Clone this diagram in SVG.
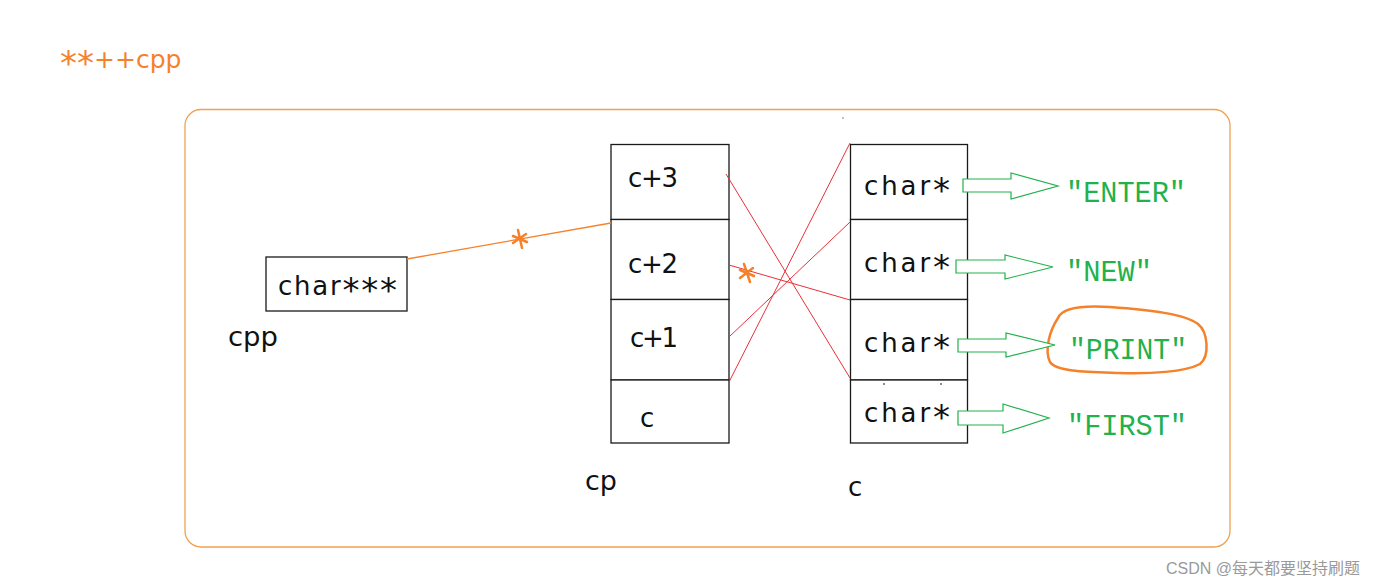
<svg xmlns="http://www.w3.org/2000/svg" width="1400" height="586" viewBox="0 0 1400 586">
<style>
.box{fill:#fff;stroke:#1a1a1a;stroke-width:1.3}
.t{font-family:"DejaVu Sans",Verdana,sans-serif;font-size:26px;fill:#111}
.lbl{font-family:"DejaVu Sans",Verdana,sans-serif;font-size:26px;fill:#111}
.big{font-size:34px}
.str{font-family:"Liberation Mono","DejaVu Sans Mono",monospace;font-size:29px;fill:#22b14c}
.red{stroke:#e8303a;stroke-width:1;fill:none}
.garrow{fill:#fff;stroke:#22b14c;stroke-width:1.2}
.ast{stroke:#f5822a;stroke-width:2.5;fill:none;stroke-linecap:round}
</style>
<rect width="1400" height="586" fill="#fff"/>
<text x="60" y="68" font-family="DejaVu Sans,Verdana,sans-serif" font-size="25" fill="#f5822a"><tspan class="big" dy="7">**</tspan><tspan dy="-7">++cpp</tspan></text>
<rect x="185" y="109.5" width="1045" height="437.5" rx="16" fill="none" stroke="#f0a050" stroke-width="1.3"/>

<g id="cpp">
<rect class="box" x="266" y="257" width="141" height="54"/>
<text class="t" x="278" y="295" textLength="119" lengthAdjust="spacing">char<tspan class="big" dy="7">***</tspan></text>
<text class="lbl" x="228" y="346" textLength="50" lengthAdjust="spacingAndGlyphs">cpp</text>
</g>

<g id="cp">
<rect class="box" x="611" y="144.5" width="118" height="75"/>
<rect class="box" x="611" y="219.5" width="118" height="80"/>
<rect class="box" x="611" y="299.5" width="118" height="80.5"/>
<rect class="box" x="611" y="380" width="118" height="63"/>
<text class="t" x="628" y="187" textLength="50" lengthAdjust="spacing">c+3</text>
<text class="t" x="628" y="273" textLength="50" lengthAdjust="spacing">c+2</text>
<text class="t" x="630" y="347" textLength="48" lengthAdjust="spacing">c+1</text>
<text class="t" x="640" y="427">c</text>
<text class="lbl" x="585" y="490" textLength="32" lengthAdjust="spacingAndGlyphs">cp</text>
</g>

<g id="c">
<rect class="box" x="850.5" y="144.5" width="117" height="75"/>
<rect class="box" x="850.5" y="219.5" width="117" height="80"/>
<rect class="box" x="850.5" y="299.5" width="117" height="80.5"/>
<rect class="box" x="850.5" y="380" width="117" height="63"/>
<text class="t" x="864" y="195" textLength="86" lengthAdjust="spacing">char<tspan class="big" dy="7">*</tspan></text>
<text class="t" x="864" y="272" textLength="86" lengthAdjust="spacing">char<tspan class="big" dy="7">*</tspan></text>
<text class="t" x="864" y="352" textLength="86" lengthAdjust="spacing">char<tspan class="big" dy="7">*</tspan></text>
<text class="t" x="864" y="422" textLength="86" lengthAdjust="spacing">char<tspan class="big" dy="7">*</tspan></text>
<text class="lbl" x="848" y="496">c</text>
<circle cx="884" cy="384" r="0.9" fill="#555"/>
<circle cx="941" cy="384" r="0.9" fill="#555"/>
<circle cx="843" cy="118" r="0.7" fill="#555"/>
</g>

<g id="strings">
<text class="str" x="1066" y="202" textLength="120" lengthAdjust="spacingAndGlyphs">"ENTER"</text>
<text class="str" x="1066" y="281" textLength="86" lengthAdjust="spacingAndGlyphs">"NEW"</text>
<text class="str" x="1069" y="359" textLength="118" lengthAdjust="spacingAndGlyphs">"PRINT"</text>
<text class="str" x="1067" y="435" textLength="120" lengthAdjust="spacingAndGlyphs">"FIRST"</text>
<path d="M1058,318 C1050,330 1044,350 1050,362 C1056,372 1090,372 1120,373 C1150,374 1185,372 1200,364 C1210,356 1208,332 1198,324 C1185,314 1150,310 1110,307 C1080,305 1062,308 1058,318 Z" fill="none" stroke="#f5822a" stroke-width="2.5"/>
</g>

<g id="connectors">
<line x1="407" y1="259" x2="611" y2="223" stroke="#f5822a" stroke-width="1.3"/>
<path class="ast" d="M518,230 L522,248 M513,236 L527,242 M513,243 L526,234"/>
<line class="red" x1="726" y1="174" x2="850" y2="378"/>
<line class="red" x1="729" y1="265" x2="850" y2="300"/>
<line class="red" x1="729" y1="337" x2="850" y2="222"/>
<line class="red" x1="729" y1="382" x2="850" y2="143"/>
<path class="ast" d="M744,264 L750,282 M740,270 L754,276 M740,278 L753,268"/>
<path class="garrow" d="M963,179 L1011,179 L1011,173 L1058,186 L1011,199 L1011,192 L963,192 Z"/>
<path class="garrow" d="M956,260 L1005,260 L1005,255 L1053,267 L1005,279 L1005,273 L956,273 Z"/>
<path class="garrow" d="M958,339 L1006,339 L1006,333 L1055,345 L1006,357 L1006,352 L958,352 Z"/>
<path class="garrow" d="M958,411 L1003,411 L1003,404 L1049,418 L1003,433 L1003,425 L958,425 Z"/>
</g>

<text x="1166" y="574" font-family="Liberation Sans,'Noto Sans CJK SC',sans-serif" font-size="16" fill="#9a9a9a">CSDN @每天都要坚持刷题</text>
</svg>
